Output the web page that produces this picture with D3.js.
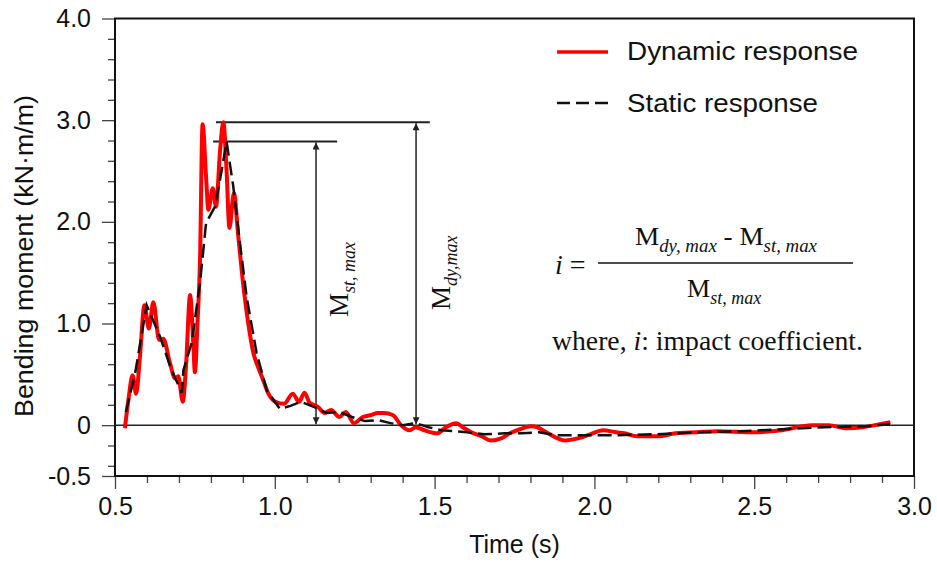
<!DOCTYPE html>
<html>
<head>
<meta charset="utf-8">
<script src="https://cdn.jsdelivr.net/npm/d3@7"></script>
<style>
  body { margin: 0; background: #fff; }
  svg text { font-family: "Liberation Sans", Arial, sans-serif; }
  .serif { font-family: "Liberation Serif", "Times New Roman", serif !important; }
</style>
</head>
<body>
<div id="chart"></div>
<script>
// bending moment vs time, dynamic and static response

const dynTime = [0.531, 0.542, 0.555, 0.566, 0.578, 0.592, 0.606, 0.620, 0.638, 0.651,
  0.672, 0.688, 0.698, 0.712, 0.722, 0.735, 0.745, 0.750, 0.758, 0.766,
  0.774, 0.785, 0.792, 0.806, 0.816, 0.829, 0.839, 0.849, 0.858, 0.872,
  0.886, 0.901, 0.917, 0.933, 0.948, 0.964, 0.980, 1.002, 1.029, 1.056,
  1.076, 1.093, 1.109, 1.135, 1.156, 1.176, 1.202, 1.222, 1.248, 1.275,
  1.302, 1.322, 1.342, 1.369, 1.395, 1.422, 1.441, 1.468, 1.508, 1.535,
  1.568, 1.588, 1.615, 1.648, 1.675, 1.708, 1.735, 1.767, 1.801, 1.820,
  1.855, 1.908, 1.948, 1.987, 2.027, 2.068, 2.094, 2.133, 2.200, 2.254,
  2.320, 2.386, 2.493, 2.587, 2.680, 2.733, 2.786, 2.840, 2.893, 2.926];
const dynMoment = [-0.03, 0.25, 0.49, 0.31, 0.67, 1.18, 0.95, 1.21, 0.84, 0.85,
  0.61, 0.46, 0.48, 0.23, 0.57, 1.28, 0.80, 0.52, 1.00, 1.62,
  2.96, 2.44, 2.12, 2.33, 2.15, 2.71, 2.98, 2.51, 1.94, 2.28,
  1.85, 1.39, 1.00, 0.71, 0.57, 0.44, 0.31, 0.23, 0.21, 0.31,
  0.23, 0.32, 0.22, 0.18, 0.12, 0.15, 0.08, 0.13, 0.02, 0.08,
  0.10, 0.12, 0.12, 0.10, 0.00, -0.05, -0.02, -0.05, -0.08, -0.02,
  0.02, -0.02, -0.07, -0.11, -0.15, -0.13, -0.08, -0.04, -0.01, -0.02,
  -0.08, -0.15, -0.13, -0.09, -0.05, -0.07, -0.08, -0.11, -0.11, -0.08,
  -0.07, -0.06, -0.07, -0.05, 0.00, 0.00, -0.03, -0.02, 0.01, 0.03];

const staTime = [0.534, 0.563, 0.599, 0.641, 0.677, 0.709, 0.714, 0.740, 0.766, 0.785,
  0.813, 0.834, 0.849, 0.870, 0.891, 0.912, 0.943, 0.975, 1.016, 1.049,
  1.082, 1.122, 1.162, 1.202, 1.242, 1.282, 1.322, 1.362, 1.400, 1.441,
  1.481, 1.522, 1.561, 1.601, 1.655, 1.720, 1.773, 1.827, 1.880, 1.933,
  2.054, 2.186, 2.320, 2.452, 2.587, 2.720, 2.853, 2.925];
const staMoment = [0.13, 0.51, 1.18, 0.87, 0.54, 0.32, 0.54, 0.81, 1.40, 1.99,
  2.15, 2.51, 2.79, 2.35, 1.79, 1.26, 0.71, 0.34, 0.16, 0.19,
  0.23, 0.18, 0.12, 0.13, 0.08, 0.04, 0.05, 0.02, 0.00, 0.02,
  -0.02, -0.05, -0.06, -0.07, -0.09, -0.08, -0.08, -0.07, -0.10, -0.10,
  -0.10, -0.09, -0.07, -0.06, -0.04, -0.02, -0.01, 0.01];

const xTickValues = [0.5, 1.0, 1.5, 2.0, 2.5, 3.0];
const xTickLabels = ['0.5', '1.0', '1.5', '2.0', '2.5', '3.0'];
const yTickValues = [4.0, 3.0, 2.0, 1.0, 0, -0.5];
const yTickLabels = ['4.0', '3.0', '2.0', '1.0', '0', '-0.5'];
const seriesNames = ['Dynamic response', 'Static response'];

// peak values used for the annotation
const mDyMax = 2.98;
const mStMax = 2.79;

var width = 937, height = 565;
var margin = {top: 18.5, right: 23, bottom: 89, left: 115};

const svg = d3.select('#chart')
  .append('svg')
  .attr('width', width)
  .attr('height', height);

const defs = svg.append('defs');
defs.append('marker')
  .attr('id', 'arrow')
  .attr('viewBox', '0 0 10 10')
  .attr('refX', 10).attr('refY', 5)
  .attr('markerWidth', 9).attr('markerHeight', 7)
  .attr('markerUnits', 'userSpaceOnUse')
  .attr('orient', 'auto-start-reverse')
  .append('path')
  .attr('d', 'M0,0 L10,5 L0,10 z')
  .attr('fill', '#222');

const xScale = d3.scaleLinear()
  .domain([0.5, 3.0])
  .range([margin.left, width - margin.right]);
const yScale = d3.scaleLinear()
  .domain([-0.5, 4.0])
  .range([height - margin.bottom, margin.top]);

// minor ticks
const xMinor = d3.range(5, 31).map(d => d / 10).filter(d => !xTickValues.includes(d));
const yMinor = d3.range(-2, 20).map(d => d / 5).filter(d => !yTickValues.includes(d));

function styleAxis(g) {
  g.select('.domain').remove();
  g.selectAll('line').attr('stroke', '#444').attr('stroke-width', 1.3);
  g.selectAll('text').attr('fill', '#111');
}

// x axis
svg.append('g')
  .attr('transform', `translate(0,${yScale(-0.5)})`)
  .call(d3.axisBottom(xScale).tickValues(xMinor).tickSize(7).tickFormat(''))
  .call(styleAxis);
svg.append('g')
  .attr('transform', `translate(0,${yScale(-0.5)})`)
  .call(d3.axisBottom(xScale).tickValues(xTickValues).tickSize(13).tickPadding(8)
    .tickFormat((d, i) => xTickLabels[i]))
  .call(styleAxis)
  .selectAll('text')
  .attr('font-size', 25);

// y axis
svg.append('g')
  .attr('transform', `translate(${xScale(0.5)},0)`)
  .call(d3.axisLeft(yScale).tickValues(yMinor).tickSize(7).tickFormat(''))
  .call(styleAxis);
svg.append('g')
  .attr('transform', `translate(${xScale(0.5)},0)`)
  .call(d3.axisLeft(yScale).tickValues(yTickValues).tickSize(13).tickPadding(11)
    .tickFormat((d, i) => yTickLabels[i]))
  .call(styleAxis)
  .selectAll('text')
  .attr('font-size', 25);

// frame
svg.append('rect')
  .attr('x', xScale(0.5))
  .attr('y', yScale(4.0))
  .attr('width', xScale(3.0) - xScale(0.5))
  .attr('height', yScale(-0.5) - yScale(4.0))
  .attr('fill', 'none')
  .attr('stroke', '#111')
  .attr('stroke-width', 2);

// zero line
svg.append('line')
  .attr('x1', xScale(0.5)).attr('x2', xScale(3.0))
  .attr('y1', yScale(0)).attr('y2', yScale(0))
  .attr('stroke', '#222').attr('stroke-width', 1.5);

// axis titles
svg.append('text')
  .attr('x', (xScale(0.5) + xScale(3.0)) / 2)
  .attr('y', 553)
  .attr('text-anchor', 'middle')
  .attr('font-size', 25)
  .attr('fill', '#111')
  .text('Time (s)');

svg.append('text')
  .attr('transform', `translate(33,417) rotate(-90)`)
  .attr('font-size', 25)
  .attr('fill', '#111')
  .attr('textLength', 322).attr('lengthAdjust', 'spacingAndGlyphs')
  .text('Bending moment (kN·m/m)');

// reference lines and arrows
const refColor = '#222';
svg.append('line')
  .attr('x1', xScale(0.816)).attr('x2', xScale(1.485))
  .attr('y1', yScale(mDyMax)).attr('y2', yScale(mDyMax))
  .attr('stroke', refColor).attr('stroke-width', 2);
svg.append('line')
  .attr('x1', xScale(0.807)).attr('x2', xScale(1.195))
  .attr('y1', yScale(mStMax)).attr('y2', yScale(mStMax))
  .attr('stroke', refColor).attr('stroke-width', 2);

svg.append('line')
  .attr('x1', xScale(1.442)).attr('x2', xScale(1.442))
  .attr('y1', yScale(mDyMax) + 1).attr('y2', yScale(0) - 1)
  .attr('stroke', refColor).attr('stroke-width', 1.5)
  .attr('marker-start', 'url(#arrow)')
  .attr('marker-end', 'url(#arrow)');
svg.append('line')
  .attr('x1', xScale(1.129)).attr('x2', xScale(1.129))
  .attr('y1', yScale(mStMax) + 1).attr('y2', yScale(0) - 1)
  .attr('stroke', refColor).attr('stroke-width', 1.5)
  .attr('marker-start', 'url(#arrow)')
  .attr('marker-end', 'url(#arrow)');

// series
const dynData = dynTime.map((t, i) => ({t: t, v: dynMoment[i]}));
const staData = staTime.map((t, i) => ({t: t, v: staMoment[i]}));

svg.append('path')
  .datum(dynData)
  .attr('fill', 'none')
  .attr('stroke', '#ff0000')
  .attr('stroke-width', 4)
  .attr('stroke-linejoin', 'round')
  .attr('d', d3.line().x(d => xScale(d.t)).y(d => yScale(d.v)).curve(d3.curveMonotoneX));

svg.append('path')
  .datum(staData)
  .attr('fill', 'none')
  .attr('stroke', '#111')
  .attr('stroke-width', 2.5)
  .attr('stroke-dasharray', '14,6')
  .attr('d', d3.line().x(d => xScale(d.t)).y(d => yScale(d.v)));

// rotated labels on the arrows
function rotatedM(x, y, sub) {
  const t = svg.append('text')
    .attr('class', 'serif')
    .attr('transform', `translate(${x},${y}) rotate(-90)`)
    .attr('fill', '#111');
  t.append('tspan').attr('font-size', 27).text('M');
  t.append('tspan').attr('font-size', 18).attr('font-style', 'italic').attr('dy', 7).text(sub);
}
rotatedM(348, 317, 'st, max');
rotatedM(450, 310, 'dy,max');

// legend
const legend = svg.append('g');
legend.append('line')
  .attr('x1', 557).attr('x2', 608).attr('y1', 52).attr('y2', 52)
  .attr('stroke', '#ff0000').attr('stroke-width', 3.5);
legend.append('line')
  .attr('x1', 557).attr('x2', 608).attr('y1', 103).attr('y2', 103)
  .attr('stroke', '#111').attr('stroke-width', 2.5).attr('stroke-dasharray', '13,6');
legend.append('text')
  .attr('x', 627).attr('y', 60)
  .attr('font-size', 25).attr('fill', '#111')
  .attr('textLength', 231).attr('lengthAdjust', 'spacingAndGlyphs')
  .text(seriesNames[0]);
legend.append('text')
  .attr('x', 627).attr('y', 112)
  .attr('font-size', 25).attr('fill', '#111')
  .attr('textLength', 191).attr('lengthAdjust', 'spacingAndGlyphs')
  .text(seriesNames[1]);

// formula
const f = svg.append('g').attr('class', 'formula').attr('fill', '#111');
const iEq = f.append('text').attr('class', 'serif').attr('x', 555).attr('y', 274).attr('font-size', 28);
iEq.append('tspan').attr('font-style', 'italic').text('i');
iEq.append('tspan').text(' =');

f.append('line')
  .attr('x1', 598).attr('x2', 853).attr('y1', 263).attr('y2', 263)
  .attr('stroke', '#111').attr('stroke-width', 1.5);

const num = f.append('text').attr('class', 'serif').attr('x', 635).attr('y', 245).attr('font-size', 26)
  .attr('textLength', 182).attr('lengthAdjust', 'spacingAndGlyphs');
num.append('tspan').text('M');
num.append('tspan').attr('font-size', 18).attr('font-style', 'italic').attr('dy', 7).text('dy, max');
num.append('tspan').attr('dy', -7).text(' - M');
num.append('tspan').attr('font-size', 18).attr('font-style', 'italic').attr('dy', 7).text('st, max');

const den = f.append('text').attr('class', 'serif').attr('x', 687).attr('y', 297).attr('font-size', 26);
den.append('tspan').text('M');
den.append('tspan').attr('font-size', 18).attr('font-style', 'italic').attr('dy', 7).text('st, max');

const where = f.append('text').attr('class', 'serif').attr('x', 552).attr('y', 350).attr('font-size', 27)
  .attr('textLength', 311).attr('lengthAdjust', 'spacingAndGlyphs');
where.append('tspan').text('where, ');
where.append('tspan').attr('font-style', 'italic').text('i');
where.append('tspan').text(': impact coefficient.');
</script>
</body>
</html>
